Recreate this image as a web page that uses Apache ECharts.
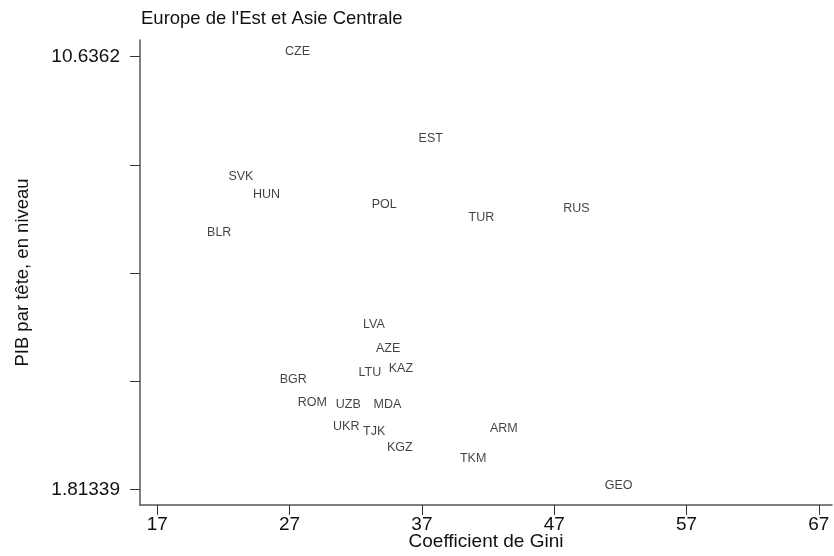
<!DOCTYPE html>
<html><head><meta charset="utf-8">
<script src="https://cdn.jsdelivr.net/npm/echarts@6/dist/echarts.min.js"></script>
<style>html,body{margin:0;padding:0;background:#fff}#c{width:834px;height:556px}</style>
</head><body><div id="c"></div>
<script>
var codes = ['CZE','EST','SVK','HUN','POL','BLR','TUR','RUS','LVA','AZE','LTU','KAZ','BGR','ROM','UZB','MDA','UKR','TJK','KGZ','ARM','TKM','GEO'];
var gini = [27.6,37.67,23.32,25.26,34.15,21.68,41.5,48.68,33.37,34.45,33.07,35.41,27.27,28.71,31.43,34.40,31.28,33.39,35.33,43.19,40.87,51.87];
var pib = [10.75,8.97,8.20,7.83,7.63,7.05,7.36,7.54,5.18,4.68,4.20,4.29,4.06,3.59,3.55,3.55,3.09,2.99,2.67,3.06,2.44,1.89];
var xTicks = [17,27,37,47,57,67];
var yTicks = [1.81339,4.0191,6.2248,8.4305,10.6362];
var yLabels = [1.81339,10.6362];

var FONT = 'Arial, "Liberation Sans", sans-serif';
var data = codes.map(function(c,i){ return [gini[i], pib[i], c]; });
var chart = echarts.init(document.getElementById('c'));
chart.setOption({
  animation:false,
  title:{text:"Europe de l'Est et Asie Centrale", left:136, top:4,
    textStyle:{fontFamily:FONT,fontSize:18.5,fontWeight:'normal',color:'#111'}},
  grid:{left:140, top:40, right:2, bottom:51, outerBoundsMode:'none', containLabel:false},
  xAxis:{type:'value', min:15.69, max:68.0,
    name:'Coefficient de Gini', nameLocation:'middle', nameGap:27, nameMoveOverlap:false,
    nameTextStyle:{fontFamily:FONT,fontSize:19,color:'#111'},
    axisLine:{show:true,lineStyle:{color:'#555',width:1.5}},
    axisTick:{show:true,length:10,inside:false,customValues:xTicks,lineStyle:{color:'#333',width:1}},
    axisLabel:{customValues:xTicks,margin:10,fontFamily:FONT,fontSize:19,color:'#111'},
    splitLine:{show:false}},
  yAxis:{type:'value', min:1.5016, max:10.9765,
    name:'PIB par tête, en niveau', nameLocation:'middle', nameGap:108, nameMoveOverlap:false,
    nameTextStyle:{fontFamily:FONT,fontSize:18.5,color:'#111'},
    axisLine:{show:true,lineStyle:{color:'#555',width:1.5}},
    axisTick:{show:true,length:10,customValues:yTicks,lineStyle:{color:'#333',width:1}},
    axisLabel:{customValues:yLabels,margin:20,fontFamily:FONT,fontSize:19,color:'#111',
      formatter:function(v){return String(v);}},
    splitLine:{show:false}},
  series:[{type:'scatter', data:data, symbol:'circle', symbolSize:2,
    itemStyle:{color:'rgba(0,0,0,0)'},
    label:{show:true, position:'inside', formatter:function(p){return p.data[2];},
      fontFamily:FONT, fontSize:12.5, color:'#111'}}]
});
</script></body></html>
